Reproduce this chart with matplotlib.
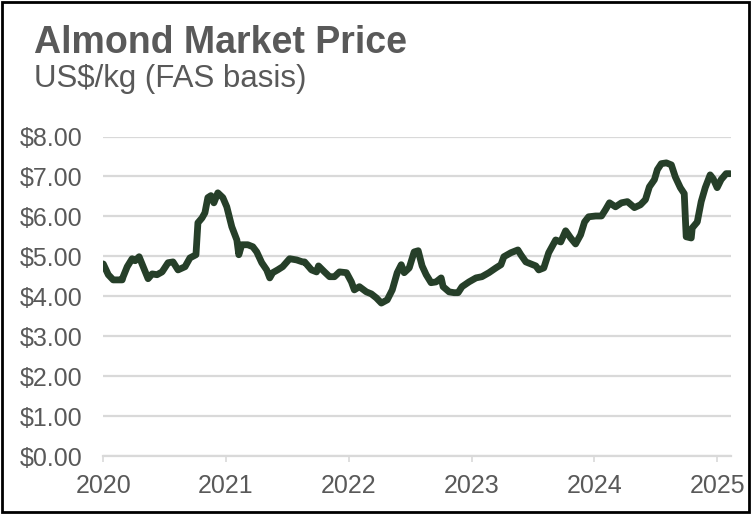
import matplotlib
matplotlib.use("Agg")
import matplotlib.pyplot as plt
from matplotlib.patches import Rectangle

# decimal years and price (US$/kg)
years = [
    2020.000, 2020.041, 2020.081, 2020.154, 2020.162, 2020.195, 2020.235, 2020.260,
    2020.292, 2020.325, 2020.365, 2020.398, 2020.438, 2020.479, 2020.528, 2020.568,
    2020.609, 2020.666, 2020.706, 2020.755, 2020.771, 2020.804, 2020.828, 2020.852,
    2020.877, 2020.901, 2020.933, 2020.974, 2021.006, 2021.047, 2021.088, 2021.104,
    2021.128, 2021.177, 2021.218, 2021.250, 2021.291, 2021.331, 2021.356, 2021.380,
    2021.420, 2021.461, 2021.518, 2021.575, 2021.623, 2021.640, 2021.696, 2021.737,
    2021.753, 2021.802, 2021.843, 2021.883, 2021.924, 2021.981, 2022.021, 2022.045,
    2022.086, 2022.143, 2022.183, 2022.224, 2022.265, 2022.313, 2022.354, 2022.394,
    2022.427, 2022.451, 2022.492, 2022.532, 2022.565, 2022.597, 2022.630, 2022.670,
    2022.711, 2022.752, 2022.768, 2022.817, 2022.857, 2022.890, 2022.922, 2022.979,
    2023.036, 2023.084, 2023.141, 2023.198, 2023.239, 2023.263, 2023.320, 2023.377,
    2023.401, 2023.442, 2023.482, 2023.523, 2023.547, 2023.588, 2023.628, 2023.685,
    2023.726, 2023.766, 2023.807, 2023.847, 2023.888, 2023.920, 2023.953, 2024.010,
    2024.058, 2024.091, 2024.123, 2024.172, 2024.221, 2024.269, 2024.326, 2024.375,
    2024.416, 2024.448, 2024.489, 2024.513, 2024.545, 2024.586, 2024.627, 2024.659,
    2024.700, 2024.732, 2024.748, 2024.789, 2024.797, 2024.838, 2024.870, 2024.903,
    2024.943, 2024.968, 2025.000, 2025.032, 2025.073, 2025.105,
]
prices = [
    4.81, 4.54, 4.41, 4.41, 4.49, 4.74, 4.94, 4.89,
    4.99, 4.74, 4.44, 4.56, 4.54, 4.61, 4.84, 4.86,
    4.66, 4.74, 4.96, 5.04, 5.84, 5.96, 6.09, 6.47,
    6.52, 6.34, 6.59, 6.47, 6.24, 5.74, 5.41, 5.04,
    5.29, 5.29, 5.24, 5.11, 4.84, 4.66, 4.46, 4.59,
    4.66, 4.74, 4.94, 4.91, 4.86, 4.86, 4.66, 4.61,
    4.76, 4.61, 4.49, 4.49, 4.61, 4.59, 4.36, 4.16,
    4.24, 4.11, 4.06, 3.96, 3.83, 3.91, 4.16, 4.59,
    4.79, 4.59, 4.71, 5.11, 5.14, 4.76, 4.54, 4.34,
    4.36, 4.46, 4.24, 4.11, 4.09, 4.09, 4.24, 4.36,
    4.46, 4.49, 4.59, 4.71, 4.79, 4.99, 5.09, 5.16,
    5.04, 4.86, 4.81, 4.76, 4.66, 4.71, 5.09, 5.41,
    5.36, 5.64, 5.46, 5.31, 5.54, 5.86, 5.99, 6.01,
    6.01, 6.17, 6.34, 6.24, 6.34, 6.37, 6.22, 6.29,
    6.42, 6.74, 6.92, 7.17, 7.32, 7.34, 7.29, 6.99,
    6.72, 6.57, 5.49, 5.46, 5.71, 5.86, 6.37, 6.72,
    7.04, 6.94, 6.72, 6.92, 7.07, 7.07,
]
year_ticks = [2020, 2021, 2022, 2023, 2024, 2025]
price_ticks = [0, 1, 2, 3, 4, 5, 6, 7, 8]

plt.rcParams['font.family'] = ['Liberation Sans', 'DejaVu Sans']

text_grey = '#595959'
grid_grey = '#d9d9d9'

fig = plt.figure(figsize=(7.51, 5.14), dpi=100)
ax = fig.add_axes([0.1375, 0.1128, 0.8359, 0.6216])

ax.plot(years, prices, color='#263f29', linewidth=4.9,
        solid_joinstyle='round', solid_capstyle='round', zorder=3)

ax.set_xlim(2020, 2025.113)
ax.set_ylim(0, 8)
ax.set_xticks(year_ticks)
ax.set_xticklabels([str(y) for y in year_ticks])
ax.set_yticks(price_ticks)
ax.set_yticklabels([f'${p:.2f}' for p in price_ticks])

ax.grid(axis='y', color=grid_grey, linewidth=1.6)
ax.set_axisbelow(True)
for side in ['top', 'right', 'left']:
    ax.spines[side].set_visible(False)
ax.spines['bottom'].set_color(grid_grey)
ax.spines['bottom'].set_linewidth(1.6)

ax.tick_params(axis='x', colors=grid_grey, length=4, width=1.2, pad=9,
               labelsize=18, labelcolor=text_grey)
ax.tick_params(axis='y', length=0, pad=15, labelsize=18, labelcolor=text_grey)

fig.text(0.045, 0.897, 'Almond Market Price', fontsize=27, fontweight='bold',
         color=text_grey, ha='left', va='baseline')
fig.text(0.045, 0.831, 'US$/kg (FAS basis)', fontsize=22.5,
         color=text_grey, ha='left', va='baseline')

fig.patches.append(Rectangle((0.002, 0.003), 0.996, 0.993, transform=fig.transFigure,
                             fill=False, edgecolor='black', linewidth=2))

fig.savefig('out.png', dpi=100)
